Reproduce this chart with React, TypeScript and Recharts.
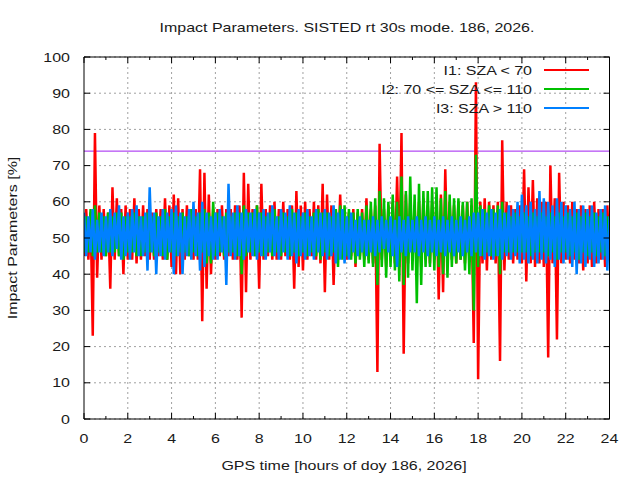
import React from 'react';
import { LineChart, Line, XAxis, YAxis, CartesianGrid, ReferenceLine } from 'recharts';

const FONT = '"Liberation Sans", Arial, sans-serif';
const FS = 16;
const SQUASH = 0.8125;

// I1 (red): samples every 0.1 h from 0 to 24
const i1Values = [
  45, 58, 44, 57, 23, 79, 39, 59, 44, 58,
  45, 57, 36, 64, 44, 61, 45, 58, 40, 59,
  44, 58, 44, 61, 43, 58, 44, 59, 45, 58,
  44, 57, 44, 58, 45, 58, 44, 61, 44, 59,
  42, 62, 40, 61, 40, 58, 44, 59, 45, 57,
  44, 58, 44, 69, 27, 68, 36, 62, 40, 58,
  44, 58, 45, 59, 44, 58, 45, 58, 44, 59,
  44, 59, 28, 68, 35, 65, 44, 58, 45, 59,
  36, 65, 44, 58, 45, 59, 44, 60, 44, 58,
  44, 60, 45, 58, 44, 59, 36, 63, 42, 59,
  41, 60, 44, 58, 45, 60, 44, 59, 43, 65,
  35, 62, 44, 59, 37, 58, 44, 62, 45, 58,
  44, 57, 45, 58, 42, 57, 45, 58, 44, 61,
  44, 58, 43, 59, 13, 76, 44, 58, 42, 59,
  44, 60, 43, 67, 42, 79, 18, 62, 43, 60,
  44, 59, 43, 60, 42, 61, 44, 59, 43, 60,
  44, 61, 33, 62, 35, 69, 43, 60, 44, 59,
  43, 60, 44, 59, 43, 60, 44, 59, 21, 93,
  11, 60, 43, 61, 41, 60, 44, 59, 43, 60,
  16, 77, 41, 60, 44, 59, 43, 58, 44, 59,
  43, 69, 38, 64, 43, 66, 42, 61, 43, 60,
  42, 60, 17, 70, 43, 61, 22, 68, 43, 60,
  44, 59, 43, 60, 44, 58, 43, 59, 41, 58,
  43, 59, 42, 60, 43, 58, 44, 58, 42, 59,
  45,
];

// I2 (green)
const i2Values = [
  46, 56, 46, 58, 45, 59, 46, 57, 46, 56,
  45, 57, 46, 56, 46, 57, 45, 57, 44, 56,
  46, 56, 46, 57, 45, 56, 45, 56, 46, 57,
  46, 56, 45, 57, 46, 56, 45, 58, 44, 56,
  46, 57, 45, 56, 46, 57, 46, 56, 45, 58,
  46, 56, 45, 57, 46, 58, 43, 57, 43, 60,
  45, 57, 46, 56, 45, 57, 46, 56, 46, 57,
  45, 57, 40, 59, 45, 57, 46, 57, 45, 59,
  46, 57, 45, 56, 46, 57, 45, 58, 46, 56,
  45, 57, 46, 56, 45, 58, 46, 57, 45, 56,
  46, 57, 45, 56, 46, 57, 45, 58, 44, 57,
  46, 57, 45, 56, 46, 58, 42, 59, 44, 59,
  45, 58, 44, 57, 43, 58, 44, 57, 42, 59,
  43, 60, 42, 61, 37, 63, 42, 61, 39, 60,
  42, 62, 41, 60, 38, 67, 37, 63, 39, 67,
  41, 62, 32, 65, 37, 63, 42, 63, 42, 64,
  41, 64, 42, 61, 40, 63, 39, 62, 42, 61,
  43, 61, 44, 60, 41, 60, 40, 61, 30, 73,
  42, 59, 45, 58, 46, 59, 45, 58, 45, 59,
  40, 60, 46, 57, 46, 56, 46, 57, 46, 56,
  46, 57, 46, 56, 45, 57, 46, 56, 46, 57,
  46, 56, 45, 57, 46, 56, 44, 57, 46, 56,
  46, 57, 45, 56, 46, 57, 44, 56, 46, 57,
  45, 56, 46, 57, 45, 56, 46, 57, 45, 56,
  47,
];

// I3 (blue)
const i3Values = [
  57, 45, 56, 46, 58, 44, 55, 46, 57, 45,
  56, 46, 58, 45, 57, 47, 59, 44, 56, 45,
  57, 44, 58, 46, 59, 45, 56, 45, 57, 41,
  64, 46, 57, 40, 56, 45, 58, 44, 57, 46,
  58, 40, 59, 45, 57, 40, 56, 45, 58, 44,
  60, 45, 57, 41, 60, 42, 57, 45, 56, 44,
  57, 44, 58, 46, 56, 37, 65, 45, 57, 44,
  59, 45, 57, 44, 58, 46, 57, 45, 58, 44,
  57, 45, 58, 44, 57, 46, 59, 45, 56, 44,
  58, 46, 57, 44, 59, 45, 57, 43, 58, 45,
  57, 44, 58, 45, 56, 44, 58, 46, 57, 45,
  58, 44, 57, 45, 59, 43, 57, 44, 58, 43,
  56, 44, 57, 46, 55, 45, 56, 46, 55, 45,
  55, 46, 56, 45, 55, 46, 56, 47, 55, 46,
  56, 45, 55, 42, 56, 46, 55, 45, 56, 46,
  55, 46, 56, 45, 55, 46, 56, 45, 55, 46,
  56, 45, 55, 46, 56, 45, 55, 46, 56, 45,
  55, 46, 56, 45, 55, 46, 56, 45, 57, 46,
  57, 45, 58, 44, 57, 45, 58, 44, 57, 45,
  58, 44, 57, 45, 59, 44, 58, 45, 60, 43,
  62, 44, 59, 43, 60, 44, 58, 43, 63, 44,
  61, 43, 60, 44, 59, 42, 61, 44, 60, 43,
  59, 44, 58, 42, 60, 40, 58, 43, 59, 42,
  58, 44, 59, 42, 57, 43, 58, 44, 59, 41,
  56,
];

const sampleStepHours = 0.1;
const seriesKeys = ['i1', 'i2', 'i3'];
const seriesNames = ['I1: SZA < 70', 'I2: 70 <= SZA <= 110', 'I3: SZA > 110'];
const seriesColors = ['#ff0000', '#00c000', '#0080ff'];
const hourTicks = [0, 1, 2, 3, 4, 5, 6, 7, 8, 9, 10, 11, 12, 13, 14, 15, 16, 17, 18, 19, 20, 21, 22, 23, 24];
const majorHourTicks = [0, 2, 4, 6, 8, 10, 12, 14, 16, 18, 20, 22, 24];
const minorHourTicks = [1, 3, 5, 7, 9, 11, 13, 15, 17, 19, 21, 23];
const gridHours = [2, 4, 6, 8, 10, 12, 14, 16, 18, 20, 22];
const hourDomain: [number, number] = [0, 24];
const percentTicks = [0, 10, 20, 30, 40, 50, 60, 70, 80, 90, 100];
const percentDomain: [number, number] = [0, 100];
const thresholdValue = 74;
const titleText = 'Impact Parameters. SISTED rt 30s mode. 186, 2026.';
const xLabelText = 'GPS time [hours of doy 186, 2026]';
const yLabelText = 'Impact Parameters [%]';

const CHART_W = 640;
const CHART_H = 480;
const MARGIN = { top: 56, right: 29.5, bottom: 59, left: 83 };
const AXIS_THICK = 1;
const plotLeft = MARGIN.left + AXIS_THICK;
const plotWidth = CHART_W - MARGIN.left - MARGIN.right - 2 * AXIS_THICK;

const data = i3Values.map((v, i) => ({
  hour: Math.round(i * sampleStepHours * 10) / 10,
  i1: i1Values[i],
  i2: i2Values[i],
  i3: v,
}));

// grid line positions follow the same linear mapping the x axis uses
const verticalGridPoints = gridHours.map(
  (h) => plotLeft + ((h - hourDomain[0]) / (hourDomain[1] - hourDomain[0])) * plotWidth,
);

const SText = ({ x, y, anchor, rotate, children }: any) => (
  <text
    transform={`translate(${x},${y})${rotate ? ` rotate(${rotate})` : ''} scale(1,${SQUASH})`}
    textAnchor={anchor}
    fontFamily={FONT}
    fontSize={FS}
    fill="#1a1a1a"
  >
    {children}
  </text>
);

const BottomTick = (props: any) => {
  const { x, y, payload } = props;
  return (
    <g>
      <line x1={x} x2={x} y1={y} y2={y - 6} stroke="#000" strokeWidth={1} />
      <SText x={x} y={y + 23.7} anchor="middle">
        {payload.value}
      </SText>
    </g>
  );
};

// second bottom axis sits 1px below the first one
const BottomMinorTick = (props: any) => {
  const { x, y } = props;
  return <line x1={x} x2={x} y1={y - 1} y2={y - 4} stroke="#000" strokeWidth={1} />;
};

const TopTick = (props: any) => {
  const { x, y, payload } = props;
  const major = payload.value % 2 === 0;
  return <line x1={x} x2={x} y1={y} y2={y + (major ? 6 : 3)} stroke="#000" strokeWidth={1} />;
};

const LeftTick = (props: any) => {
  const { x, y, payload } = props;
  return (
    <g>
      <line x1={x} x2={x + 6} y1={y} y2={y} stroke="#000" strokeWidth={1} />
      <SText x={x - 14} y={y + 4.65} anchor="end">
        {payload.value}
      </SText>
    </g>
  );
};

const RightTick = (props: any) => {
  const { x, y } = props;
  return <line x1={x} x2={x - 6} y1={y} y2={y} stroke="#000" strokeWidth={1} />;
};

const axisCommon = {
  type: 'number' as const,
  dataKey: 'hour',
  domain: hourDomain,
  interval: 0 as const,
  height: AXIS_THICK,
  tickSize: 0,
  tickMargin: 0,
  tickLine: false,
  allowDataOverflow: true,
};

export default function App() {
  return (
    <div style={{ position: 'relative', width: CHART_W, height: CHART_H, background: '#fff', overflow: 'hidden' }}>
      <style>{'body{margin:0;background:#fff}'}</style>
      <LineChart width={CHART_W} height={CHART_H} data={data} margin={MARGIN}>
        <CartesianGrid stroke="#a0a0a0" strokeDasharray="2 3" verticalPoints={verticalGridPoints} />
        <XAxis {...axisCommon} ticks={majorHourTicks} axisLine={{ stroke: '#000' }} tick={<BottomTick />} />
        <XAxis {...axisCommon} xAxisId="minor" ticks={minorHourTicks} axisLine={false} tick={<BottomMinorTick />} />
        <XAxis
          {...axisCommon}
          xAxisId="top"
          orientation="top"
          ticks={hourTicks}
          axisLine={{ stroke: '#000' }}
          tick={<TopTick />}
        />
        <YAxis
          type="number"
          domain={percentDomain}
          ticks={percentTicks}
          interval={0}
          width={AXIS_THICK}
          tickSize={0}
          tickMargin={0}
          tickLine={false}
          axisLine={{ stroke: '#000' }}
          tick={<LeftTick />}
          allowDataOverflow
        />
        <YAxis
          yAxisId="right"
          orientation="right"
          type="number"
          domain={percentDomain}
          ticks={percentTicks}
          interval={0}
          width={AXIS_THICK}
          tickSize={0}
          tickMargin={0}
          tickLine={false}
          axisLine={{ stroke: '#000' }}
          tick={<RightTick />}
          allowDataOverflow
        />
        <ReferenceLine y={thresholdValue} stroke="#a020f0" strokeWidth={1} />
        {seriesKeys.map((k, idx) => (
          <Line
            key={k}
            type="linear"
            dataKey={k}
            stroke={seriesColors[idx]}
            strokeWidth={2.5}
            strokeLinejoin="bevel"
            dot={false}
            activeDot={false}
            isAnimationActive={false}
          />
        ))}
      </LineChart>
      <svg
        width={CHART_W}
        height={CHART_H}
        style={{ position: 'absolute', left: 0, top: 0, pointerEvents: 'none' }}
      >
        <SText x={347} y={32} anchor="middle">{titleText}</SText>
        <SText x={344} y={470} anchor="middle">{xLabelText}</SText>
        <SText x={16.6} y={238} anchor="middle" rotate={-90}>{yLabelText}</SText>
        {seriesNames.map((name, idx) => (
          <g key={name}>
            <SText x={532} y={74.7 + idx * 19} anchor="end">{name}</SText>
            <line x1={544} x2={589} y1={70 + idx * 19} y2={70 + idx * 19} stroke={seriesColors[idx]} strokeWidth={2} />
          </g>
        ))}
      </svg>
    </div>
  );
}
